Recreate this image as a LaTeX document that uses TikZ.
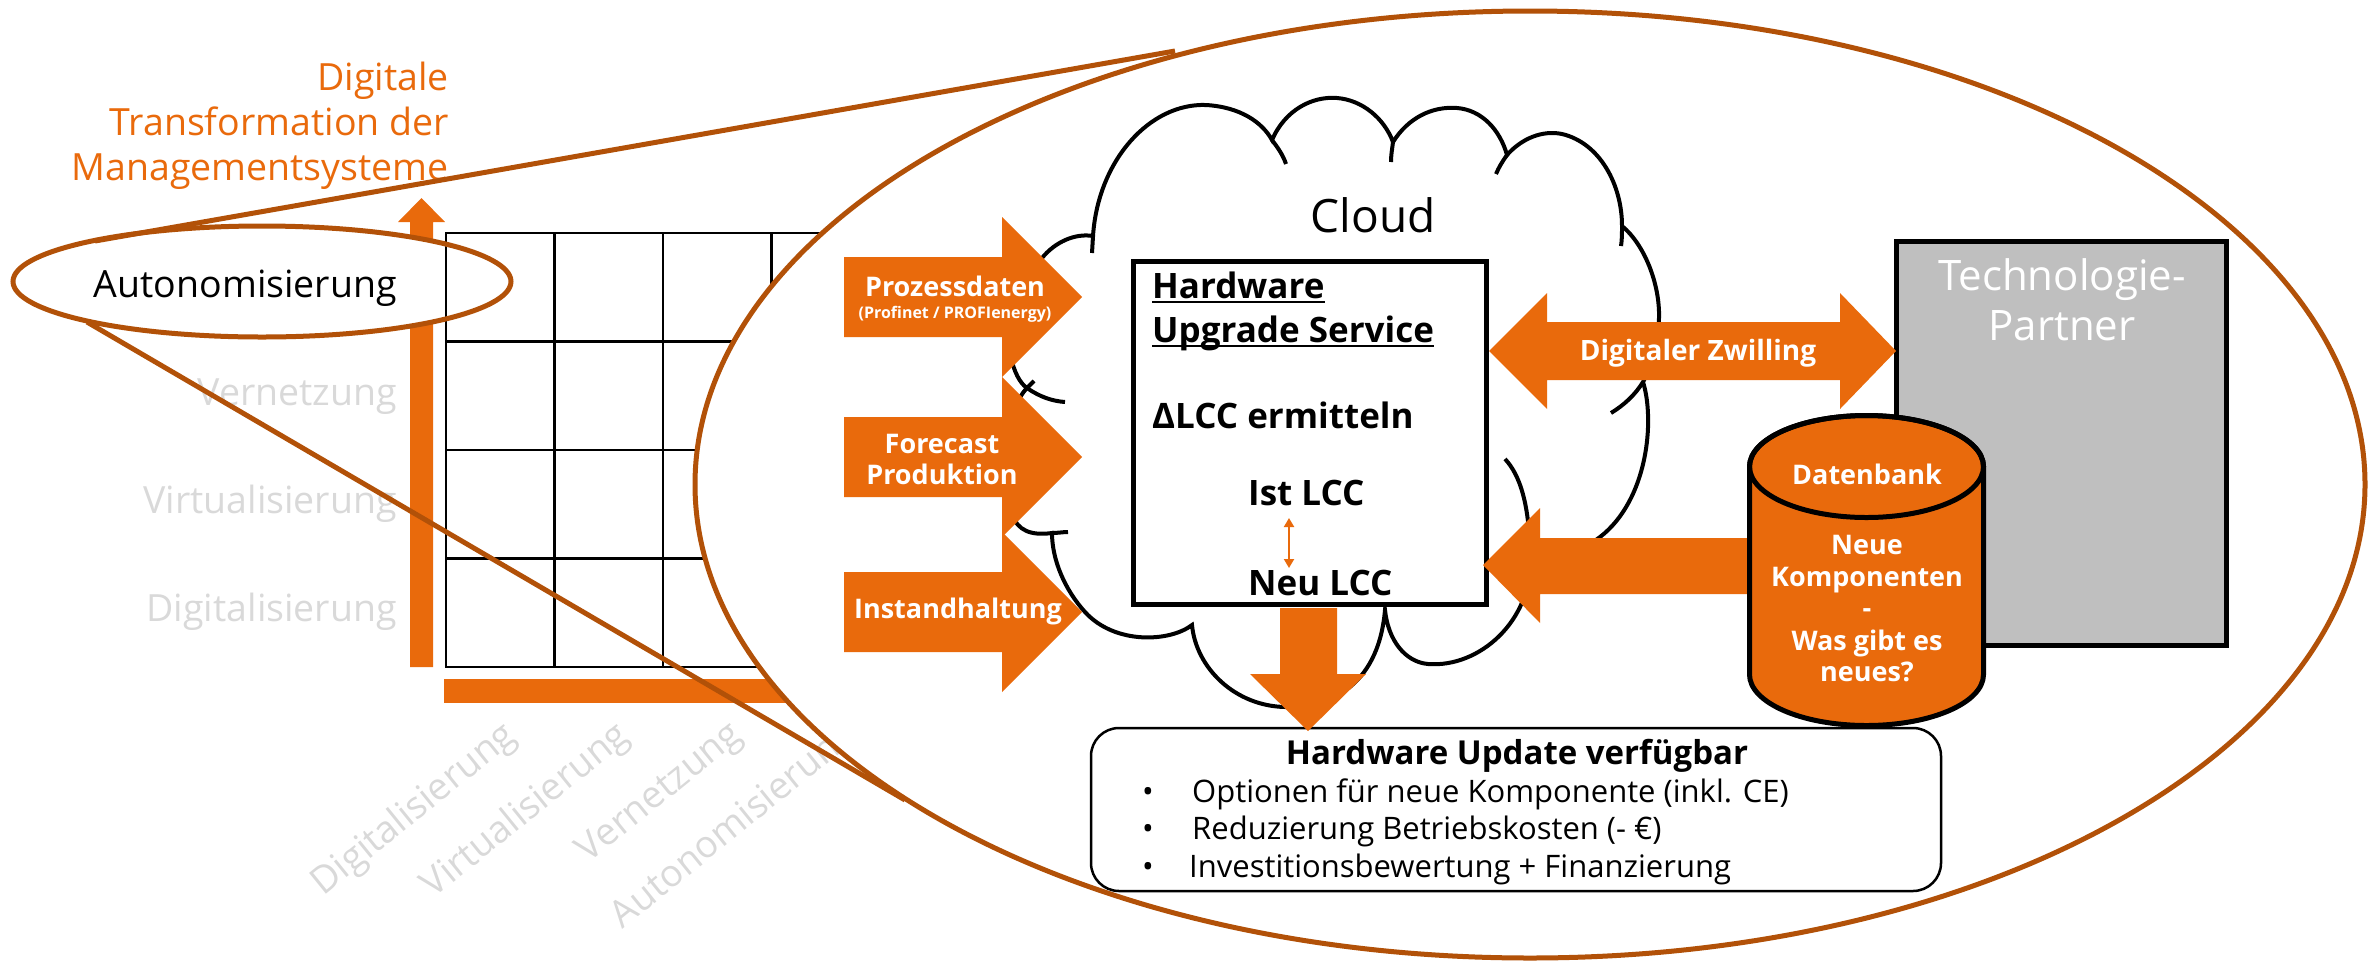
\documentclass[tikz,border=0pt]{standalone}
\usepackage{fontspec}
\setmainfont{Open Sans}
\usetikzlibrary{arrows.meta,calc,shapes.geometric}
\definecolor{forange}{RGB}{233,106,12}
\definecolor{fbrown}{RGB}{178,81,8}
\definecolor{lgray}{RGB}{217,217,217}
\definecolor{tgray}{RGB}{191,191,191}
\newcommand{\fsz}[2]{\fontsize{#1}{#2}\selectfont}
\begin{document}
\begin{tikzpicture}[x=1pt,y=-1pt,
  lbl/.style={font=\fsz{37.5}{45}, inner sep=0pt},
  glbl/.style={lbl, text=lgray},
  olbl/.style={lbl, text=forange},
  wtxt/.style={font=\bfseries\fsz{27}{32}, text=white, inner sep=0pt},
  btxt/.style={font=\bfseries\fsz{35}{40}, inner sep=0pt},
  ltxt/.style={font=\fsz{31}{37}, inner sep=0pt},
  blk/.style={fill=forange},
  gline/.style={line width=2.5pt, black, line cap=rect},
  mag/.style={draw=fbrown, line width=5pt},
  cl/.style={line width=4pt, black}]
\useasboundingbox (0,0) rectangle (2380,962);
% ---------- matrix axes ----------
\fill[blk] (410,667) -- (410,222) -- (398,222) -- (421.5,198) -- (445,222) -- (433,222) -- (433,667) -- cycle;
\fill[blk] (444,679) rectangle (950,703);
\fill[white] (262,281.5) ellipse [x radius=249pt, y radius=55.5pt];
\foreach \i in {0,...,4} {
  \draw[gline] ({446+108.5*\i},233) -- ({446+108.5*\i},667);
  \draw[gline] (446,{233+108.5*\i}) -- (880,{233+108.5*\i});
}
\node[lbl, anchor=base east] (yauto) at (397,297) {Autonomisierung};
\node[glbl, anchor=base east] (yvern) at (397,405) {Vernetzung};
\node[glbl, anchor=base east] (yvirt) at (397,513) {Virtualisierung};
\node[glbl, anchor=base east] (ydig) at (397,621) {Digitalisierung};
\node[glbl, rotate=39, anchor=north east] (xdig) at (500,717) {Digitalisierung};
\node[glbl, rotate=39, anchor=north east] (xvirt) at (613,717) {Virtualisierung};
\node[glbl, rotate=39, anchor=north east] (xvern) at (727,717) {Vernetzung};
\node[glbl, rotate=39, anchor=north east] (xauto) at (841,717) {Autonomisierung};
\node[olbl, anchor=base east] (t1) at (449,90) {Digitale};
\node[olbl, anchor=base east] (t2) at (449,135) {Transformation der};
\node[olbl, anchor=base east] (t3) at (449,180) {Managementsysteme};
% ---------- magnifier ----------
\node[ellipse, draw=fbrown, fill=white, line width=5pt, minimum width=1670pt, minimum height=947pt, inner sep=0pt] (bigell) at (1530,484.5) {};
\draw[mag] (95,241) -- (1175,51);
\draw[mag] (87,322) -- (905,800);
\node[ellipse, draw=fbrown, line width=5pt, minimum width=498pt, minimum height=111pt, inner sep=0pt] (smell) at (262,281.5) {};
% ---------- cloud ----------
\draw[cl] (1052,533)
  .. controls (1030,536) and (1018,530) .. (1012,515)
  .. controls (1000,480) and (1005,410) .. (1027,388)
  .. controls (1012,378) and (1005,340) .. (1010,320)
  .. controls (1015,290) and (1030,265) .. (1042,258)
  .. controls (1055,242) and (1075,233) .. (1093,236)
  .. controls (1098,160) and (1150,103) .. (1206,105)
  .. controls (1240,107) and (1262,122) .. (1272,140)
  .. controls (1285,110) and (1312,96) .. (1337,98)
  .. controls (1362,100) and (1384,118) .. (1393,142)
  .. controls (1408,118) and (1432,106) .. (1457,108)
  .. controls (1482,110) and (1500,130) .. (1507,155)
  .. controls (1522,138) and (1543,130) .. (1562,134)
  .. controls (1600,143) and (1622,185) .. (1622,226)
  .. controls (1645,245) and (1660,285) .. (1659,318)
  .. controls (1658,345) and (1652,365) .. (1643,382)
  .. controls (1655,420) and (1648,500) .. (1600,537)
  .. controls (1580,552) and (1560,560) .. (1530,560)
  .. controls (1532,620) and (1480,668) .. (1428,664)
  .. controls (1405,662) and (1388,640) .. (1385,610)
  .. controls (1378,690) and (1325,708) .. (1285,707)
  .. controls (1235,706) and (1196,668) .. (1192,625)
  .. controls (1170,642) and (1115,645) .. (1085,612)
  .. controls (1065,590) and (1052,560) .. (1052,533) -- cycle;
\draw[cl] (1272,140) .. controls (1278,148) and (1283,155) .. (1286,164);
\draw[cl] (1393,142) .. controls (1392,150) and (1391,155) .. (1391,162);
\draw[cl] (1507,155) .. controls (1502,162) and (1499,167) .. (1496,174);
\draw[cl] (1622,226) .. controls (1622,233) and (1622,240) .. (1621,246);
\draw[cl] (1643,382) .. controls (1635,395) and (1624,405) .. (1611,413);
\draw[cl] (1505,459) .. controls (1520,475) and (1530,505) .. (1530,560);
\draw[cl] (1052,533) .. controls (1058,533) and (1063,532) .. (1068,532);
\draw[cl] (1027,388) .. controls (1040,397) and (1052,401) .. (1065,402);
\draw[cl] (1027,388) -- (1034,381);
\draw[cl] (1093,236) -- (1092,253);
\node[font=\fsz{46}{50}, inner sep=0pt, anchor=base] (cloudlbl) at (1373,232) {Cloud};
% ---------- service box ----------
\node[draw, line width=5pt, fill=white, minimum width=353pt, minimum height=343pt, inner sep=0pt] (hw) at (1309.5,432.5) {};
\node[btxt, anchor=base west] (hw1) at (1152,298) {Hardware};
\node[btxt, anchor=base west] (hw2) at (1152,342) {Upgrade Service};
\draw[line width=2pt] ($(hw1.base west)+(0,4)$) -- ($(hw1.base east)+(0,4)$);
\draw[line width=2pt] ($(hw2.base west)+(0,4)$) -- ($(hw2.base east)+(0,4)$);
\node[btxt, anchor=base west] (hw3) at (1152,428) {ΔLCC ermitteln};
\node[btxt, anchor=base west] (ist) at (1248,505) {Ist LCC};
\node[btxt, anchor=base west] (neu) at (1248,595) {Neu LCC};
\draw[forange, line width=2pt, {Triangle[length=9pt,width=10pt]}-{Triangle[length=9pt,width=10pt]}] ($(ist.base west)+(41,13)$) -- ($(neu.base west)+(41,-27)$);
% ---------- update box ----------
\node[draw, line width=2.5pt, rounded corners=28pt, fill=white, minimum width=850pt, minimum height=163pt, inner sep=0pt] (upd) at (1516,809.5) {};
\node[font=\bfseries\fsz{33}{37}, inner sep=0pt, anchor=base] (updt) at (1517,764) {Hardware Update verfügbar};
\node[ltxt, anchor=base] (bu1) at (1148,802) {•};
\node[ltxt, anchor=base] (bu2) at (1148,839) {•};
\node[ltxt, anchor=base] (bu3) at (1148,877) {•};
\node[ltxt, anchor=base west] (b1) at (1192,802) {Optionen für neue Komponente (inkl. CE)};
\node[ltxt, anchor=base west] (b2) at (1192,839) {Reduzierung Betriebskosten (- €)};
\node[ltxt, anchor=base west] (b3) at (1189,877) {Investitionsbewertung + Finanzierung};
% ---------- input arrows ----------
\foreach \yc in {297,457,612} {
  \fill[blk] (844,{\yc-40}) -- (1002,{\yc-40}) -- (1002,{\yc-80}) -- (1082,\yc) -- (1002,{\yc+80}) -- (1002,{\yc+40}) -- (844,{\yc+40}) -- cycle;
}
\node[wtxt, anchor=base] (pz1) at (955,296) {Prozessdaten};
\node[font=\bfseries\fsz{16}{18}, text=white, inner sep=0pt, anchor=base] (pz2) at (955,318) {(Profinet / PROFIenergy)};
\node[wtxt, anchor=base] (fc1) at (942,453) {Forecast};
\node[wtxt, anchor=base] (fc2) at (942,484) {Produktion};
\node[wtxt, anchor=base] (ih) at (958,618) {Instandhaltung};
% ---------- technology partner ----------
\node[draw, line width=5pt, fill=tgray, minimum width=330pt, minimum height=404pt, inner sep=0pt] (tech) at (2061.5,443.5) {};
\node[font=\fsz{42}{50}, text=white, inner sep=0pt, anchor=base] (tech1) at (2062,290) {Technologie-};
\node[font=\fsz{42}{50}, text=white, inner sep=0pt, anchor=base] (tech2) at (2062,340) {Partner};
\fill[blk] (1489,351) -- (1547,293) -- (1547,322) -- (1840,322) -- (1840,293) -- (1896,351) -- (1840,409) -- (1840,380) -- (1547,380) -- (1547,409) -- cycle;
\node[font=\bfseries\fsz{28}{32}, text=white, inner sep=0pt, anchor=base] (zw) at (1698,360) {Digitaler Zwilling};
% ---------- database ----------
\fill[blk] (1483,565) -- (1540,508) -- (1540,538) -- (1760,538) -- (1760,594) -- (1540,594) -- (1540,623) -- cycle;
\path[fill=forange, draw=black, line width=5pt] (1749.5,466.5) -- (1749.5,674.5)
  .. controls (1749.5,702.7) and (1801.9,725.5) .. (1866.5,725.5)
  .. controls (1931.1,725.5) and (1983.5,702.7) .. (1983.5,674.5)
  -- (1983.5,466.5)
  .. controls (1983.5,438.3) and (1931.1,415.5) .. (1866.5,415.5)
  .. controls (1801.9,415.5) and (1749.5,438.3) .. (1749.5,466.5) -- cycle;
\draw[line width=5pt] (1866.5,466.5) ellipse [x radius=117pt, y radius=51pt];
\node[wtxt, anchor=base] (db1) at (1867,484) {Datenbank};
\node[wtxt, anchor=base] (db2) at (1867,554) {Neue};
\node[wtxt, anchor=base] (db3) at (1867,586) {Komponenten};
\node[wtxt, anchor=base] (db4) at (1867,617) {-};
\node[wtxt, anchor=base] (db5) at (1867,650) {Was gibt es};
\node[wtxt, anchor=base] (db6) at (1867,681) {neues?};
% ---------- output arrow ----------
\fill[blk] (1280,608) -- (1337,608) -- (1337,674) -- (1366,674) -- (1308,731) -- (1250,674) -- (1280,674) -- cycle;
\end{tikzpicture}
\end{document}
